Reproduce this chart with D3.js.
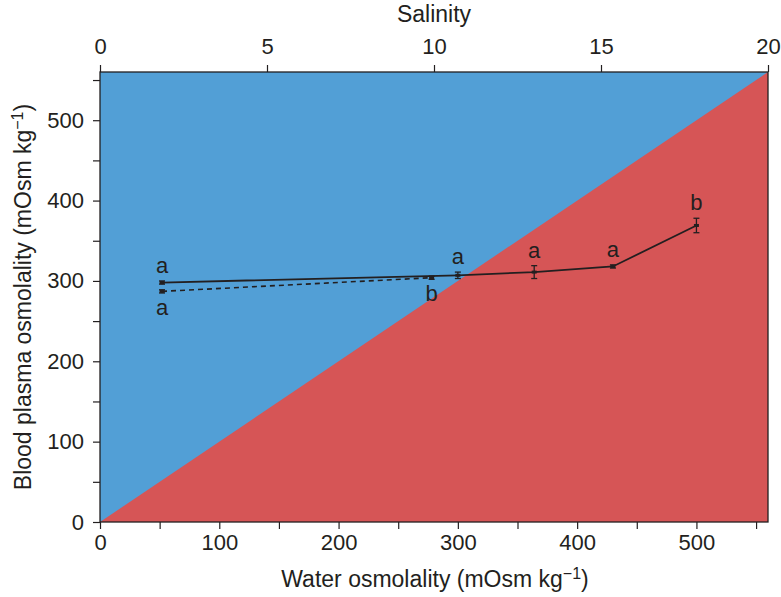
<!DOCTYPE html>
<html><head><meta charset="utf-8">
<script src="https://cdn.jsdelivr.net/npm/d3@7"></script>
<style>body{margin:0;background:#fff}text{font-family:"Liberation Sans",Arial,sans-serif;fill:#231f20}</style>
</head><body><svg id="c" width="781" height="597"></svg>
<script>
// Data
const solidX = [52, 300, 364, 430, 500];
const solidY = [298, 307, 311, 318, 369];
const solidErr = [2, 4, 8, 2, 9];
const solidLabels = ["a", "a", "a", "a", "b"];
const dashX = [52, 278];
const dashY = [287, 304];
const dashErr = [2, 2];
const dashLabels = ["a", "b"];
const xTicks = [0, 100, 200, 300, 400, 500];
const yTicks = [0, 100, 200, 300, 400, 500];
const salTicks = [0, 5, 10, 15, 20];

const svg = d3.select("#c");
const L = 100, R = 768, T = 72, B = 522;
const x = d3.scaleLinear().domain([0, 560]).range([L, R]);
const y = d3.scaleLinear().domain([0, 560]).range([B, T]);
const xs = d3.scaleLinear().domain([0, 20]).range([L, R]);
const ink = "#231f20";

// regions
svg.append("rect").attr("x", L).attr("y", T).attr("width", R - L).attr("height", B - T).attr("fill", "#529fd6");
svg.append("path").attr("d", `M${x(0)},${y(0)}L${x(560)},${y(560)}L${x(560)},${y(0)}Z`).attr("fill", "#d65556");

// frame
svg.append("rect").attr("x", L).attr("y", T).attr("width", R - L).attr("height", B - T).attr("fill", "none").attr("stroke", ink).attr("stroke-width", 1.3);

function styleAxis(g) {
  g.selectAll(".domain").remove();
  g.selectAll("line").attr("stroke", ink).attr("stroke-width", 1.2);
  g.selectAll("text").style("font-size", "22px").attr("fill", ink);
}
const minorX = d3.range(50, 560, 100);
const minorY = d3.range(50, 560, 100);

const gx = svg.append("g").attr("transform", `translate(0,${B})`)
  .call(d3.axisBottom(x).tickValues(xTicks).tickSize(7).tickPadding(5).tickFormat(d3.format("d")));
styleAxis(gx);
const gxm = svg.append("g").attr("transform", `translate(0,${B})`)
  .call(d3.axisBottom(x).tickValues(minorX).tickSize(7).tickFormat(""));
styleAxis(gxm);

const gy = svg.append("g").attr("transform", `translate(${L},0)`)
  .call(d3.axisLeft(y).tickValues(yTicks).tickSize(7).tickPadding(9).tickFormat(d3.format("d")));
styleAxis(gy);
const gym = svg.append("g").attr("transform", `translate(${L},0)`)
  .call(d3.axisLeft(y).tickValues(minorY).tickSize(7).tickFormat(""));
styleAxis(gym);

const gt = svg.append("g").attr("transform", `translate(0,${T})`)
  .call(d3.axisTop(xs).tickValues(salTicks).tickSize(7).tickPadding(11).tickFormat(d3.format("d")));
styleAxis(gt);

// titles
svg.append("text").attr("x", (L + R) / 2).attr("y", 22).attr("text-anchor", "middle").style("font-size", "23px").text("Salinity");
const xt = svg.append("text").attr("x", (L + R) / 2 + 1).attr("y", 587).attr("text-anchor", "middle").style("font-size", "23px");
xt.append("tspan").text("Water osmolality (mOsm kg");
xt.append("tspan").attr("dy", -8).style("font-size", "16px").text("\u22121");
xt.append("tspan").attr("dy", 8).text(")");
const yt = svg.append("text").attr("transform", `translate(31,${(T + B) / 2}) rotate(-90)`).attr("text-anchor", "middle").style("font-size", "23px");
yt.append("tspan").text("Blood plasma osmolality (mOsm kg");
yt.append("tspan").attr("dy", -8).style("font-size", "16px").text("\u22121");
yt.append("tspan").attr("dy", 8).text(")");

// lines
const solid = solidX.map((d, i) => [d, solidY[i], solidErr[i], solidLabels[i]]);
const dash = dashX.map((d, i) => [d, dashY[i], dashErr[i], dashLabels[i]]);
const line = d3.line().x(d => x(d[0])).y(d => y(d[1]));
svg.append("path").datum(dash).attr("d", line).attr("fill", "none").attr("stroke", ink).attr("stroke-width", 1.6).attr("stroke-dasharray", "5,4");
svg.append("path").datum(solid).attr("d", line).attr("fill", "none").attr("stroke", ink).attr("stroke-width", 1.8);

function drawPts(data, above) {
  const g = svg.append("g");
  data.forEach((d, i) => {
    const cx = x(d[0]), cy = y(d[1]);
    const y1 = y(d[1] + d[2]), y2 = y(d[1] - d[2]);
    g.append("line").attr("x1", cx).attr("x2", cx).attr("y1", y1).attr("y2", y2).attr("stroke", ink).attr("stroke-width", 1.3);
    g.append("line").attr("x1", cx - 3).attr("x2", cx + 3).attr("y1", y1).attr("y2", y1).attr("stroke", ink).attr("stroke-width", 1.3);
    g.append("line").attr("x1", cx - 3).attr("x2", cx + 3).attr("y1", y2).attr("y2", y2).attr("stroke", ink).attr("stroke-width", 1.3);
    g.append("rect").attr("x", cx - 2.5).attr("y", cy - 1.5).attr("width", 5).attr("height", 3).attr("fill", ink);
    const ly = above ? y(d[1] + d[2]) - 8 : y(d[1] - d[2]) + 22;
    g.append("text").attr("x", cx).attr("y", ly).attr("text-anchor", "middle").style("font-size", "22px").text(d[3]);
  });
}
drawPts(solid, true);
drawPts(dash, false);
</script></body></html>
